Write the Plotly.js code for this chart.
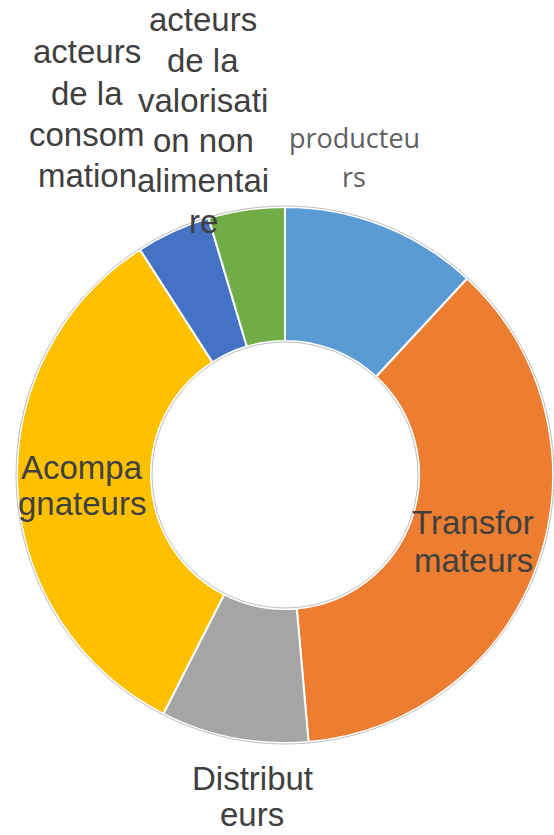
<!DOCTYPE html>
<html>
<head>
<meta charset="utf-8">
<script src="https://cdn.plot.ly/plotly-3.0.1.min.js"></script>
<style>
  html, body { margin: 0; padding: 0; background: #ffffff; }
  #chart { width: 554px; height: 835px; }
</style>
</head>
<body>
<div id="chart"></div>
<script>
// ---- data ----
var categories = [
  "producteurs",
  "Transformateurs",
  "Distributeurs",
  "Acompagnateurs",
  "acteurs de la consommation",
  "acteurs de la valorisation non alimentaire"
];
var values = [11.9, 36.7, 8.9, 33.4, 4.5, 4.6];
var sliceColors = ["#5B9BD5", "#ED7D31", "#A5A5A5", "#FFC000", "#4472C4", "#70AD47"];
// wrapped label text, as shown in the chart
var labelLines = [
  ["producteu", "rs"],
  ["Transfor", "mateurs"],
  ["Distribut", "eurs"],
  ["Acompa", "gnateurs"],
  ["acteurs", "de la", "consom", "mation"],
  ["acteurs", "de la", "valorisati", "on non", "alimentai", "re"]
];

// ---- layout / style ----
var W = 554, H = 835;
var pieDomain = { x: [17 / W, 553 / W], y: [1 - 743 / H, 1 - 207 / H] };
// label placement (pixel centre x, first-line middle y, line step)
var labelPlace = [
  { cx: 354, y0: 137, dy: 39, font: "Open Sans, sans-serif", size: 27, color: "#606060" },
  { cx: 473, y0: 522, dy: 38, font: "Liberation Sans, Arial, sans-serif", size: 33, color: "#404040" },
  { cx: 252, y0: 778, dy: 36, font: "Liberation Sans, Arial, sans-serif", size: 33, color: "#404040" },
  { cx: 82,  y0: 467, dy: 36, font: "Liberation Sans, Arial, sans-serif", size: 33, color: "#404040" },
  { cx: 87,  y0: 52,  dy: 41, font: "Liberation Sans, Arial, sans-serif", size: 33, color: "#404040" },
  { cx: 203, y0: 20,  dy: 40.2, font: "Liberation Sans, Arial, sans-serif", size: 33, color: "#404040" }
];

var annotations = [];
labelLines.forEach(function (lines, i) {
  var p = labelPlace[i];
  lines.forEach(function (t, k) {
    annotations.push({
      xref: "paper", yref: "paper",
      x: p.cx / W, y: 1 - (p.y0 + k * p.dy) / H,
      xanchor: "center", yanchor: "middle",
      text: t, showarrow: false,
      font: { family: p.font, size: p.size, color: p.color }
    });
  });
});

// thin grey outline around the ring
var cxp = (pieDomain.x[0] + pieDomain.x[1]) / 2 * W;
var cyp = (1 - (pieDomain.y[0] + pieDomain.y[1]) / 2) * H;
var R = Math.min((pieDomain.x[1] - pieDomain.x[0]) * W, (pieDomain.y[1] - pieDomain.y[0]) * H) / 2;
var holeFrac = 0.5;
function circ(r) {
  return {
    type: "circle", xref: "paper", yref: "paper", layer: "above",
    x0: (cxp - r) / W, x1: (cxp + r) / W,
    y0: 1 - (cyp + r) / H, y1: 1 - (cyp - r) / H,
    line: { color: "#BFBFBF", width: 1 }
  };
}

var trace = {
  type: "pie",
  labels: categories,
  values: values,
  hole: holeFrac,
  sort: false,
  direction: "clockwise",
  rotation: 0,
  textinfo: "none",
  hoverinfo: "label+percent",
  domain: pieDomain,
  marker: { colors: sliceColors, line: { color: "#FFFFFF", width: 2 } }
};

var layout = {
  width: W, height: H,
  margin: { l: 0, r: 0, t: 0, b: 0 },
  paper_bgcolor: "#FFFFFF",
  plot_bgcolor: "#FFFFFF",
  showlegend: false,
  annotations: annotations,
  shapes: [circ(R + 1), circ(R * holeFrac - 1)]
};

Plotly.newPlot("chart", [trace], layout, { displayModeBar: false, staticPlot: true });
</script>
</body>
</html>
